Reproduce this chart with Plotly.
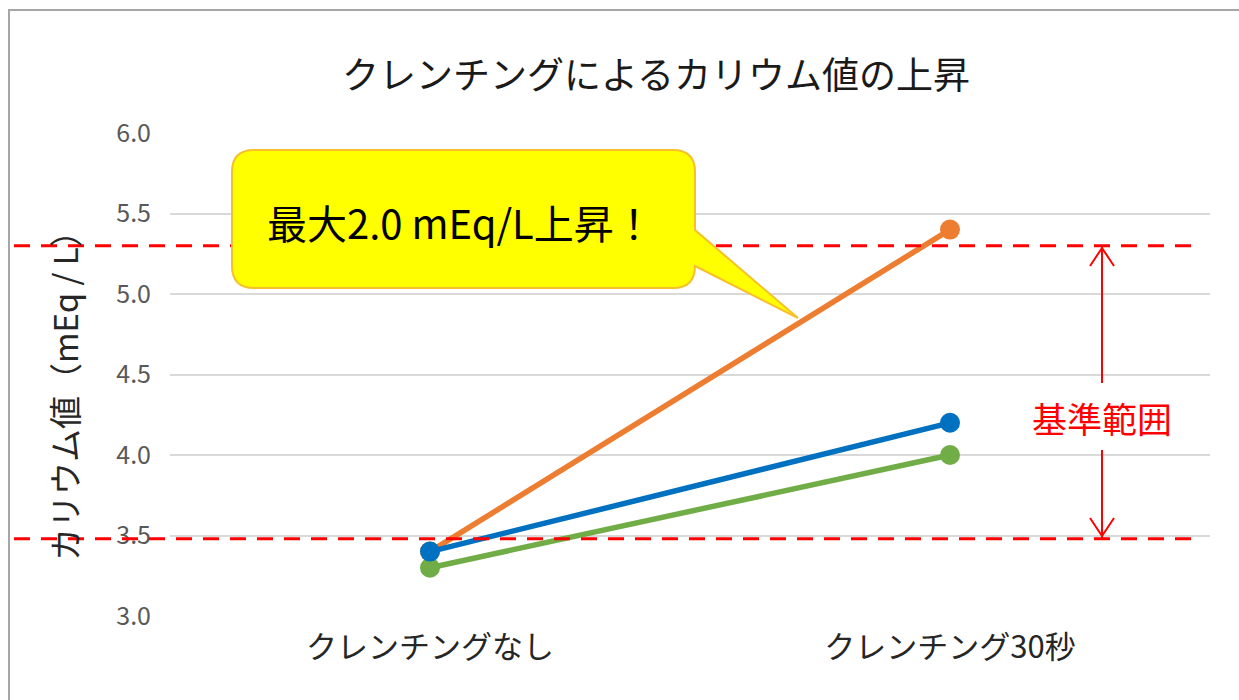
import plotly.graph_objects as go

categories = ["クレンチングなし", "クレンチング30秒"]
series_orange = [3.4, 5.4]
series_blue = [3.4, 4.2]
series_green = [3.3, 4.0]
ref_upper = 5.3
ref_lower = 3.48
y_ticks = [3.0, 3.5, 4.0, 4.5, 5.0, 5.5, 6.0]

W, H = 1239, 700
L, R, T, B = 170, 1210, 133, 616
FONT = "Noto Sans CJK JP"

def px(x):
    return (x - L) / (R - L)

def py(y):
    return (B - y) / (B - T)

fig = go.Figure()
for vals, col in [(series_orange, "#ED7D31"), (series_green, "#70AD47"), (series_blue, "#0070C0")]:
    fig.add_trace(go.Scatter(x=categories, y=vals, mode="lines+markers",
                             line=dict(color=col, width=5.5),
                             marker=dict(color=col, size=20), showlegend=False))

shapes = []
# outer border
shapes.append(dict(type="rect", xref="paper", yref="paper",
                   x0=px(9), x1=px(1300), y0=py(10), y1=py(760),
                   line=dict(color="#A6A6A6", width=2), fillcolor="rgba(0,0,0,0)", layer="below"))
# reference dashed lines
for v in [ref_upper, ref_lower]:
    shapes.append(dict(type="line", xref="paper", yref="y", x0=px(14), x1=px(1198), y0=v, y1=v,
                       line=dict(color="#FF0000", width=3, dash="16px,11px")))

# range arrow
ax = px(1102)
shapes.append(dict(type="line", xref="paper", yref="paper", x0=ax, x1=ax,
                   y0=py(246), y1=py(383), line=dict(color="#FF0000", width=2)))
shapes.append(dict(type="line", xref="paper", yref="paper", x0=ax, x1=ax,
                   y0=py(450), y1=py(538), line=dict(color="#FF0000", width=2)))
def p(x, y):
    return f"{px(x):.5f},{py(y):.5f}"
shapes.append(dict(type="path", xref="paper", yref="paper",
                   path=f"M{p(1090,266)} L{p(1102,248)} L{p(1114,266)}",
                   line=dict(color="#FF0000", width=2)))
shapes.append(dict(type="path", xref="paper", yref="paper",
                   path=f"M{p(1090,518)} L{p(1102,536)} L{p(1114,518)}",
                   line=dict(color="#FF0000", width=2)))

# callout bubble
x0, x1, y0, y1, r = 232, 695, 150, 288, 22
path = (f"M{p(x0+r,y0)} L{p(x1-r,y0)} Q{p(x1,y0)} {p(x1,y0+r)} "
        f"L{p(x1,230)} L{p(798,318)} L{p(x1,266)} "
        f"L{p(x1,y1-r)} Q{p(x1,y1)} {p(x1-r,y1)} L{p(x0+r,y1)} Q{p(x0,y1)} {p(x0,y1-r)} "
        f"L{p(x0,y0+r)} Q{p(x0,y0)} {p(x0+r,y0)} Z")
shapes.append(dict(type="path", xref="paper", yref="paper", path=path,
                   fillcolor="#FFFF00", line=dict(color="#F5C02A", width=2)))

annotations = [
    dict(text="クレンチングによるカリウム値の上昇", xref="paper", yref="paper",
         x=px(656), y=py(73), showarrow=False, font=dict(family=FONT, size=37, color="#1A1A1A"),
         xanchor="center", yanchor="middle"),
    dict(text="カリウム値（mEq / L）", xref="paper", yref="paper", textangle=-90,
         x=px(64), y=py(388), showarrow=False, font=dict(family=FONT, size=33, color="#262626"),
         xanchor="center", yanchor="middle"),
    dict(text="最大2.0 mEq/L上昇！", xref="paper", yref="paper",
         x=px(265), y=py(222), showarrow=False, font=dict(family=FONT, size=40, color="#000000"),
         xanchor="left", yanchor="middle"),
    dict(text="基準範囲", xref="paper", yref="paper",
         x=ax, y=py(417), showarrow=False, font=dict(family=FONT, size=35, color="#FF0000"),
         xanchor="center", yanchor="middle"),
]

fig.update_layout(
    width=W, height=H, margin=dict(l=L, r=W - R, t=T, b=H - B),
    paper_bgcolor="white", plot_bgcolor="white",
    shapes=shapes, annotations=annotations, showlegend=False,
    xaxis=dict(type="category", range=[-0.5, 1.5], showgrid=False, zeroline=False,
               showline=False, ticks="", tickfont=dict(family=FONT, size=31, color="#262626"),
               ticklabelstandoff=10),
    yaxis=dict(range=[3.0, 6.0], tickvals=y_ticks, ticktext=[f"{v:.1f}" for v in y_ticks],
               showgrid=True, gridcolor="#D9D9D9", gridwidth=2, zeroline=False, showline=False,
               ticks="", tickfont=dict(family=FONT, size=25, color="#595959"),
               ticklabelstandoff=18),
)

fig.write_html("out.html")
